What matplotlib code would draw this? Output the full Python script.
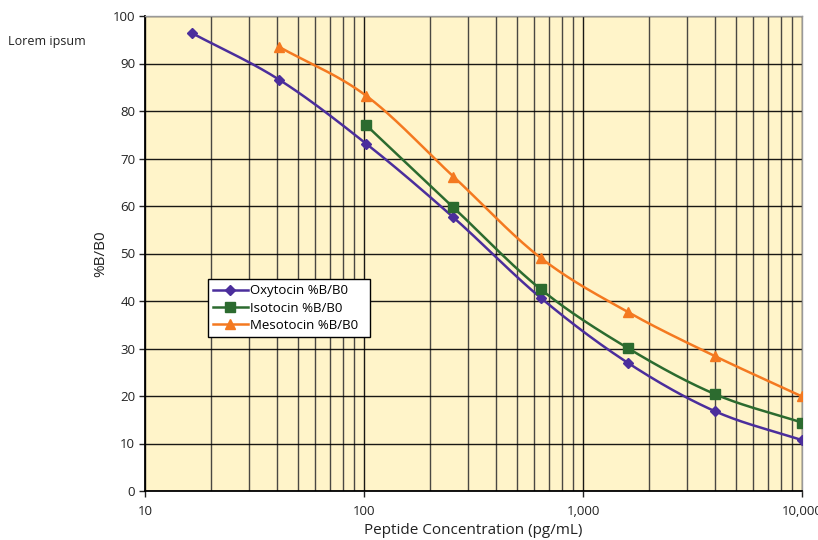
import numpy as np
import matplotlib
matplotlib.use("Agg")
import matplotlib.pyplot as plt
from matplotlib.ticker import FixedLocator, FuncFormatter, NullFormatter

plt.rcParams['font.family'] = ['Open Sans', 'DejaVu Sans']

oxy_x = [16.38, 40.96, 102.4, 256, 640, 1600, 4000, 10000]
oxy_y = [96.4, 86.6, 73.1, 57.6, 40.7, 27.0, 16.8, 10.7]
iso_x = [102.4, 256, 640, 1600, 4000, 10000]
iso_y = [77.0, 59.7, 42.5, 30.1, 20.4, 14.4]
meso_x = [40.96, 102.4, 256, 640, 1600, 4000, 10000]
meso_y = [93.5, 83.2, 66.2, 49.1, 37.7, 28.4, 19.9]

labels = ["Oxytocin %B/B0", "Isotocin %B/B0", "Mesotocin %B/B0"]
colors = ["#4B2E9C", "#2C6B2F", "#F47920"]
markers = ["D", "s", "^"]
msizes = [5, 7.5, 7.5]


def smooth(xs, ys, n=30):
    # Catmull-Rom rendering of the line in log-x space
    lx = np.log10(np.asarray(xs, float))
    y = np.asarray(ys, float)
    P = np.column_stack([lx, y])
    P = np.vstack([2 * P[0] - P[1], P, 2 * P[-1] - P[-2]])
    out = []
    for i in range(1, len(P) - 2):
        p0, p1, p2, p3 = P[i - 1], P[i], P[i + 1], P[i + 2]
        t = np.linspace(0, 1, n)[:, None]
        seg = 0.5 * ((2 * p1) + (-p0 + p2) * t + (2 * p0 - 5 * p1 + 4 * p2 - p3) * t ** 2
                     + (-p0 + 3 * p1 - 3 * p2 + p3) * t ** 3)
        out.append(seg if i == 1 else seg[1:])
    S = np.vstack(out)
    return 10 ** S[:, 0], S[:, 1]


fig = plt.figure(figsize=(8.18, 5.40), dpi=100)
ax = fig.add_axes([145 / 818, 49 / 540, 657 / 818, 475 / 540])
ax.set_facecolor("#FFF4C9")
ax.set_xscale("log")
ax.set_xlim(10, 10000)
ax.set_ylim(0, 100)

ax.xaxis.set_major_locator(FixedLocator([10, 100, 1000, 10000]))
minors = [m * 10 ** e for e in range(1, 4) for m in range(2, 10)]
ax.xaxis.set_minor_locator(FixedLocator(minors))
ax.xaxis.set_major_formatter(FuncFormatter(lambda v, p: f"{int(v):,}"))
ax.xaxis.set_minor_formatter(NullFormatter())
ax.set_yticks(np.arange(0, 101, 10))

ax.grid(True, which="major", color="#000000", linewidth=1.0, alpha=0.9)
ax.grid(True, which="minor", axis="x", color="#2a2a2a", linewidth=1.0, alpha=0.85)
ax.tick_params(axis="both", which="major", direction="out", length=4, width=1,
               labelsize=9.5, colors="#222222", pad=3)
ax.tick_params(axis="x", which="minor", length=0)
ax.tick_params(axis="x", which="major", pad=6)

for s in ["top", "right"]:
    ax.spines[s].set_color("#999999")
    ax.spines[s].set_linewidth(1.0)
for s in ["left", "bottom"]:
    ax.spines[s].set_color("#000000")
    ax.spines[s].set_linewidth(1.3)

series = [(oxy_x, oxy_y), (iso_x, iso_y), (meso_x, meso_y)]
for (xs, ys), lab, c, m, ms in zip(series, labels, colors, markers, msizes):
    sx, sy = smooth(xs, ys)
    ax.plot(sx, sy, color=c, linewidth=1.8, zorder=3)
    ax.plot(xs, ys, linestyle="none", marker=m, color=c, markersize=ms, zorder=4)
    ax.plot([], [], color=c, linewidth=1.8, marker=m, markersize=ms, label=lab)

x0 = (208 - 145) / 657
x1 = (370 - 145) / 657
y0 = (491 - 339) / 475
y1 = (491 - 279) / 475
leg = ax.legend(loc="upper left", bbox_to_anchor=(x0, y0, x1 - x0, y1 - y0),
                mode="expand", fontsize=9.5, frameon=True, fancybox=False, borderpad=0.4,
                labelspacing=0.32, handlelength=2.6, handletextpad=0.2,
                borderaxespad=0)
leg.get_frame().set_edgecolor("#000000")
leg.get_frame().set_linewidth(1.0)
leg.get_frame().set_facecolor("#FFFFFF")
leg.get_frame().set_alpha(1)

ax.set_xlabel("Peptide Concentration (pg/mL)", fontsize=11, labelpad=4, color="#222222")
ax.set_ylabel("%B/B0", fontsize=11, labelpad=3, color="#222222")

fig.text(8 / 818, 1 - 41 / 540, "Lorem ipsum", fontsize=9, va="center", ha="left", color="#222222")

fig.savefig("out.png", dpi=100)
